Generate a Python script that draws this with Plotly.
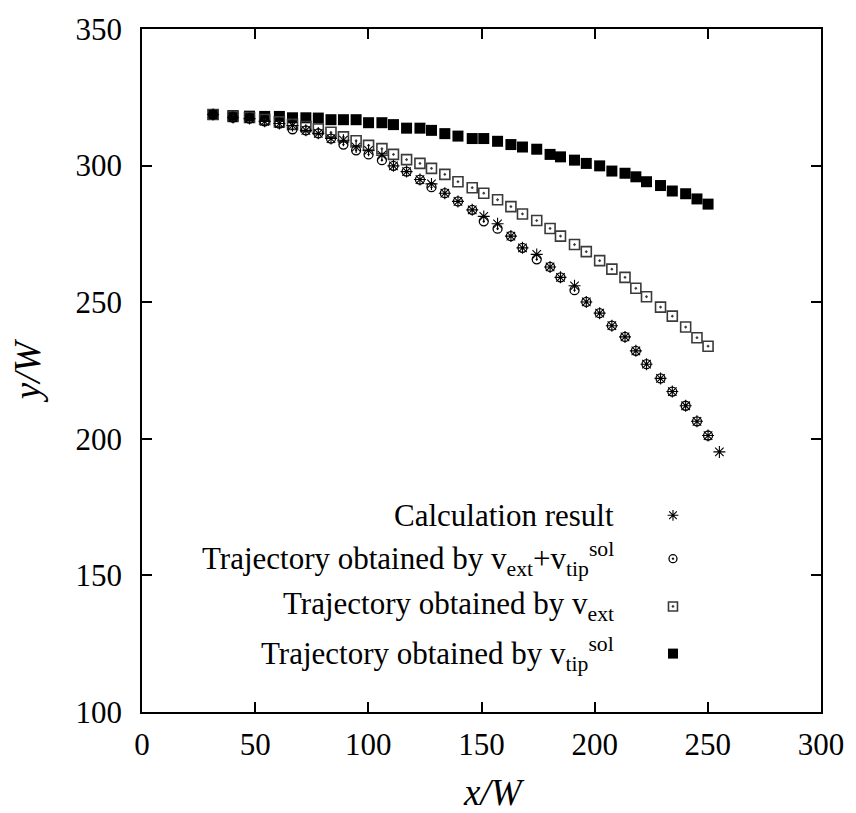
import plotly.graph_objects as go

# ---------------- data ----------------
x_grid = [31.4, 40.2, 47.5, 54.2, 60.7, 66.5, 72.4, 77.9, 83.5, 89.0,
          94.6, 100.1, 106.0, 111.1, 116.9, 122.8, 127.9, 133.8, 139.6, 145.9,
          151.0, 157.1, 163.0, 168.1, 174.4, 180.3, 184.9, 191.1, 196.3, 202.2,
          207.6, 213.4, 218.2, 222.9, 229.1, 234.3, 240.2, 245.2, 250.1]

y_tip = [318.7, 318.3, 318.1, 318.0, 318.0, 317.5, 317.5, 317.4, 316.8, 316.8,
         316.8, 315.7, 315.7, 315.0, 313.7, 313.7, 312.9, 311.7, 310.8, 309.9,
         309.9, 308.9, 307.7, 306.8, 306.0, 304.1, 303.2, 302.0, 300.8, 299.9,
         298.0, 297.2, 295.9, 294.1, 292.7, 290.7, 289.7, 287.8, 285.9]

y_ext = [318.7, 318.0, 317.6, 316.9, 316.0, 315.1, 314.3, 313.4, 312.2, 310.5,
         309.1, 307.4, 306.2, 304.1, 302.2, 300.8, 299.0, 296.8, 294.1, 291.9,
         289.9, 287.5, 285.0, 282.3, 279.9, 277.0, 274.2, 271.1, 268.5, 265.2,
         262.1, 259.1, 255.1, 252.0, 248.2, 244.9, 240.9, 237.0, 233.9]

y_ext_tip = [318.7, 317.6, 317.2, 316.2, 315.4, 313.3, 312.9, 311.8, 309.9, 307.7,
             305.6, 304.1, 302.0, 299.9, 297.8, 294.9, 292.1, 289.9, 286.9, 283.8,
             279.6, 276.9, 274.2, 269.9, 265.7, 262.9, 259.1, 254.4, 250.1, 246.0,
             241.4, 237.3, 232.2, 227.3, 222.1, 217.3, 212.1, 206.4, 201.2]

x_calc = x_grid + [255.1]
y_calc = [318.7, 317.6, 317.2, 316.2, 315.4, 314.7, 312.9, 311.8, 309.9, 309.3,
          306.8, 305.6, 303.8, 299.9, 297.8, 294.9, 293.3, 289.9, 286.9, 283.8,
          281.4, 278.7, 274.2, 269.9, 267.5, 262.9, 259.1, 256.0, 250.1, 246.0,
          241.4, 237.3, 232.2, 227.3, 222.1, 217.3, 212.1, 206.4, 201.2, 195.2]

labels = ["Calculation result",
          "Trajectory obtained by v<sub>ext</sub>+v<sub>tip</sub><sup>sol</sup>",
          "Trajectory obtained by v<sub>ext</sub>",
          "Trajectory obtained by v<sub>tip</sub><sup>sol</sup>"]

x_ticks = [0, 50, 100, 150, 200, 250, 300]
y_ticks = [100, 150, 200, 250, 300, 350]
x_title = "<i>x/W</i>"
y_title = "<i>y/W</i>"

FONT = "Liberation Serif"

styles = [
    dict(symbol="asterisk-open", size=10, color="black", line=dict(color="black", width=1.1)),
    dict(symbol="circle-open-dot", size=9, color="black", line=dict(color="black", width=1.3)),
    dict(symbol="square-open-dot", size=10, color="#3a3a3a", line=dict(color="#3a3a3a", width=1.6)),
    dict(symbol="square", size=11, color="black", line=dict(color="black", width=0)),
]

fig = go.Figure()

# draw order: filled squares at back, then hollow squares, circles, asterisks
fig.add_trace(go.Scatter(x=x_grid, y=y_tip, mode="markers", marker=styles[3], showlegend=False))
fig.add_trace(go.Scatter(x=x_grid, y=y_ext, mode="markers", marker=styles[2], showlegend=False))
fig.add_trace(go.Scatter(x=x_grid, y=y_ext_tip, mode="markers", marker=styles[1], showlegend=False))
fig.add_trace(go.Scatter(x=x_calc, y=y_calc, mode="markers", marker=styles[0], showlegend=False))

# gnuplot-style key: text right-aligned, sample symbol on the right
key_rows = [0.288, 0.2245, 0.1545, 0.0855]
key_text_x = 0.698
key_sym_x = 0.782
for lab, ry, st in zip(labels, key_rows, styles):
    fig.add_annotation(xref="paper", yref="paper", x=key_text_x, y=ry,
                       text=lab, showarrow=False, xanchor="right", yanchor="middle",
                       font=dict(family=FONT, size=31, color="black"))
    kst = dict(st)
    kst["size"] = st["size"] - 1
    fig.add_trace(go.Scatter(x=[key_sym_x], y=[ry], xaxis="x2", yaxis="y2",
                             mode="markers", marker=kst, showlegend=False,
                             hoverinfo="skip"))

# x axis title placed like gnuplot's (well below the tick labels)
fig.add_annotation(xref="paper", yref="paper", x=0.518, y=-0.118, text=x_title,
                   showarrow=False, xanchor="center", yanchor="middle",
                   font=dict(family=FONT, size=37, color="black"))

axis_common = dict(
    showgrid=False, zeroline=False, showline=True, linecolor="black", linewidth=1.5,
    mirror="ticks", ticks="inside", ticklen=10, tickwidth=1.5, tickcolor="black",
    tickfont=dict(family=FONT, size=31, color="black"),
)

fig.update_layout(
    width=856, height=813,
    margin=dict(l=142, r=30, t=23, b=101),
    paper_bgcolor="white", plot_bgcolor="white",
    showlegend=False,
    xaxis=dict(range=[0, 300], tickvals=x_ticks, ticklabelstandoff=4,
               **axis_common),
    yaxis=dict(range=[100, 350], tickvals=y_ticks, ticklabelstandoff=12,
               title=dict(text=y_title, font=dict(family=FONT, size=37, color="black"),
                          standoff=24),
               **axis_common),
    xaxis2=dict(overlaying="x", range=[0, 1], visible=False, fixedrange=True),
    yaxis2=dict(overlaying="y", range=[0, 1], visible=False, fixedrange=True),
)

fig.write_html("out.html")
